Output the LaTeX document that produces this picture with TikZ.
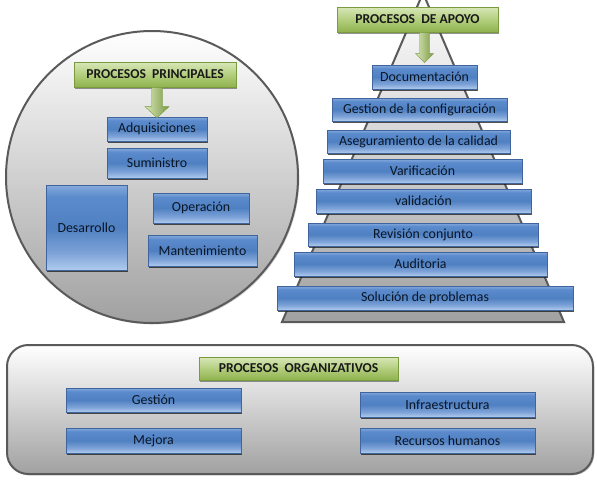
\documentclass[tikz,border=0pt]{standalone}
\usepackage{fontspec}
\setmainfont{Carlito}
\usetikzlibrary{calc,shadows}
\definecolor{bL}{HTML}{B0CBEE}
\definecolor{bM1}{HTML}{7EA3D8}
\definecolor{bM}{HTML}{4F80C2}
\definecolor{bM2}{HTML}{5B8BCC}
\definecolor{bT}{HTML}{86AADC}
\definecolor{gB}{HTML}{8FB34D}
\definecolor{gM}{HTML}{B3CE7E}
\definecolor{gT}{HTML}{D8E7B8}
\definecolor{bBorder}{HTML}{3F659C}
\definecolor{gBorder}{HTML}{7A9A3E}
\definecolor{txt}{HTML}{0A1626}
\definecolor{grayB}{HTML}{5A5A5A}
\pgfdeclareverticalshading{bluegloss}{100bp}{color(0bp)=(bL); color(25bp)=(bL); color(35bp)=(bM1); color(50bp)=(bM); color(68bp)=(bM2); color(75bp)=(bT); color(100bp)=(bT)}
\pgfdeclareverticalshading{greengloss}{100bp}{color(0bp)=(gB); color(25bp)=(gB); color(50bp)=(gM); color(75bp)=(gT); color(100bp)=(gT)}
\tikzset{
  boxfont/.style={font=\fontsize{10.4}{12}\selectfont, text=txt},
  bluebox/.style={shading=bluegloss, draw=bBorder, line width=0.5pt, inner sep=0pt, boxfont,
    drop shadow={shadow xshift=1.1pt, shadow yshift=-1.3pt, fill=black!90, opacity=0.75}},
  greenbox/.style={shading=greengloss, draw=gBorder, line width=0.5pt, inner sep=0pt, font=\fontsize{10.2}{12}\selectfont\bfseries, text=black!90,
    drop shadow={shadow xshift=1.1pt, shadow yshift=-1.3pt, fill=black!70, opacity=0.6}},
  grayback/.style={top color=white, bottom color=black!37, draw=grayB, line width=1.5pt},
  greenarrow/.style={left color=gT, right color=gB!85!black, draw=gBorder, line width=0.3pt}
}
\newcommand\mybox[7]{\node[#1, minimum width={(#5-#3)*0.75pt}, minimum height={(#6-#4)*0.75pt}] (#2) at ({(#3+#5)/2},{(#4+#6)/2}) {#7};}
\begin{document}
\begin{tikzpicture}[x=0.75pt,y=-0.75pt]
\clip (0,0) rectangle (597,480);
\fill[white] (0,0) rectangle (597,480);
% circle background
\node[circle, grayback, minimum size=292*0.75pt, inner sep=0pt,
  drop shadow={shadow xshift=1pt, shadow yshift=-1pt, opacity=0.4}] (circ) at (152,177) {};
% pyramid
\coordinate (apex) at (423,-7);
\coordinate (bl) at (282,322);
\coordinate (br) at (564,322);
\draw[grayback, line join=miter] (apex) -- (br) -- (bl) -- cycle;
% bottom panel
\draw[grayback, rounded corners=16pt, drop shadow={shadow xshift=1pt, shadow yshift=-1pt, opacity=0.4}] (7,345) rectangle (593,474);

% principal processes
\mybox{greenbox}{pp}{74}{62}{236}{87}{PROCESOS\ \ PRINCIPALES}
\mybox{bluebox}{adq}{107}{117}{207}{141}{Adquisiciones}
\mybox{bluebox}{sum}{107}{148}{207}{178}{Suministro}
\mybox{bluebox}{des}{46}{185}{127}{270}{Desarrollo}
\mybox{bluebox}{ope}{153}{193}{249}{223}{Operación}
\mybox{bluebox}{man}{148}{235}{257}{266}{Mantenimiento}

% support processes
\mybox{greenbox}{pa}{337}{7}{498}{32}{PROCESOS\ \ DE APOYO}
\mybox{bluebox}{doc}{372}{65}{477}{89}{Documentación}
\mybox{bluebox}{gconf}{332}{98}{507}{121}{Gestion de la configuración}
\mybox{bluebox}{aseg}{327}{130}{510}{153}{Aseguramiento de la calidad}
\mybox{bluebox}{var}{323}{159}{522}{183}{Varificación}
\mybox{bluebox}{val}{316}{189}{531}{213}{validación}
\mybox{bluebox}{rev}{308}{223}{538}{246}{Revisión conjunto}
\mybox{bluebox}{aud}{294}{252}{547}{276}{Auditoria}
\mybox{bluebox}{sol}{277}{286}{573}{310}{Solución de problemas}

% organizational processes
\mybox{greenbox}{po}{199}{357}{398}{380}{PROCESOS\ \ ORGANIZATIVOS}
\mybox{bluebox}{ges}{66}{388}{241}{412}{Gestión}
\mybox{bluebox}{mej}{66}{428}{241}{453}{Mejora}
\mybox{bluebox}{inf}{360}{392}{535}{417}{Infraestructura}
\mybox{bluebox}{rh}{360}{428}{535}{453}{Recursos humanos}

% block arrows
\path[greenarrow] ($(pp.south -| adq.north)+(-5.5,0)$) -- ($(pp.south -| adq.north)+(5.5,0)$)
  -- ($(adq.north)+(5.5,-10)$) -- ($(adq.north)+(12,-10)$) -- ($(adq.north)+(0,1)$)
  -- ($(adq.north)+(-12,-10)$) -- ($(adq.north)+(-5.5,-10)$) -- cycle;
\path[greenarrow] ($(pa.south -| doc.north)+(-5,0)$) -- ($(pa.south -| doc.north)+(5,0)$)
  -- ($(doc.north)+(5,-11)$) -- ($(doc.north)+(9,-11)$) -- ($(doc.north)+(0,-2)$)
  -- ($(doc.north)+(-9,-11)$) -- ($(doc.north)+(-5,-11)$) -- cycle;
\end{tikzpicture}
\end{document}
